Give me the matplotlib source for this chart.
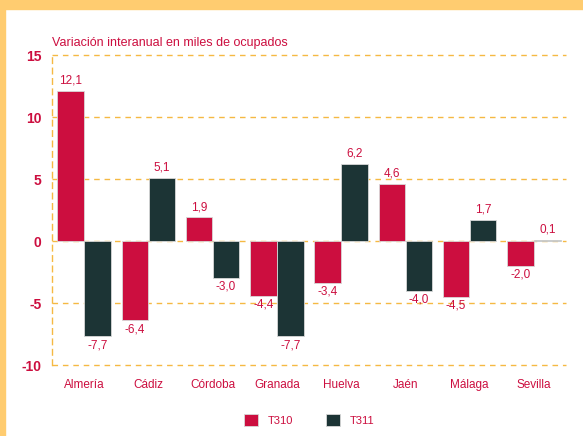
import matplotlib
matplotlib.use("Agg")
import matplotlib.pyplot as plt
import numpy as np
from matplotlib.patches import Rectangle

categories = ["Almería", "Cádiz", "Córdoba", "Granada", "Huelva", "Jaén", "Málaga", "Sevilla"]
t310 = [12.1, -6.4, 1.9, -4.4, -3.4, 4.6, -4.5, -2.0]
t311 = [-7.7, 5.1, -3.0, -7.7, 6.2, -4.0, 1.7, 0.1]
series_names = ["T310", "T311"]
yticks = [-10, -5, 0, 5, 10, 15]
title = "Variación interanual en miles de ocupados"

RED = "#CC0E3F"
DARK = "#1C3435"
GRID = "#F5B943"
BORDER = "#FFCC70"

plt.rcParams['font.family'] = ['Liberation Sans', 'DejaVu Sans']

fig = plt.figure(figsize=(5.83, 4.36), dpi=100)
# frame border
fig.patches.append(Rectangle((0, 1 - 9/436), 1, 9/436, transform=fig.transFigure, color=BORDER, zorder=0))
fig.patches.append(Rectangle((0, 0), 5/583, 1, transform=fig.transFigure, color=BORDER, zorder=0))

ax = fig.add_axes([52/583, 1 - 365/436, (566 - 52)/583, (365 - 55)/436])
x = np.arange(len(categories))
w = 0.41
off = 0.21
b1 = ax.bar(x - off, t310, w, color=RED, edgecolor="#D8D8D8", linewidth=0.6, zorder=3)
b2 = ax.bar(x + off, t311, w, color=DARK, edgecolor="#D8D8D8", linewidth=0.6, zorder=3)

for bars, vals in ((b1, t310), (b2, t311)):
    for rect, v in zip(bars, vals):
        cx = rect.get_x() + rect.get_width() / 2
        lab = f"{v:.1f}".replace(".", ",")
        if v >= 0:
            ax.annotate(lab, (cx, v), xytext=(0, 3), textcoords="offset points",
                        ha="center", va="bottom", color=RED, fontsize=8.5)
        else:
            ax.annotate(lab, (cx, v), xytext=(0, -2), textcoords="offset points",
                        ha="center", va="top", color=RED, fontsize=8.5)

ax.set_xlim(-0.5, len(categories) - 0.5)
ax.set_ylim(-10, 15)
ax.set_yticks(yticks)
ax.set_yticklabels([str(t) for t in yticks], fontweight="bold", color=RED, fontsize=10)
ax.set_xticks(x)
ax.set_xticklabels(categories, color=RED, fontsize=8.5)
ax.tick_params(axis="y", length=0, pad=7.5)
ax.tick_params(axis="x", length=0, pad=10)

for t in yticks:
    ax.axhline(t, color=GRID, linestyle=(0, (4, 3.5)), linewidth=1.0, zorder=1, clip_on=False)
for s in ["top", "right", "bottom"]:
    ax.spines[s].set_visible(False)
ax.spines["left"].set_color(GRID)
ax.spines["left"].set_linestyle((0, (4, 3.5)))
ax.spines["left"].set_linewidth(1.0)

fig.text(52/583, 1 - 43/436, title, color=RED, fontsize=9, ha="left", va="center")

leg = ax.legend([b1, b2], series_names, loc="center", bbox_to_anchor=(0.5, (365 - 420)/310),
                ncol=2, frameon=False, fontsize=8, handlelength=1.25, handleheight=1.25,
                columnspacing=3.0, handletextpad=0.85)
for t in leg.get_texts():
    t.set_color(RED)

fig.savefig("out.png", dpi=100)
